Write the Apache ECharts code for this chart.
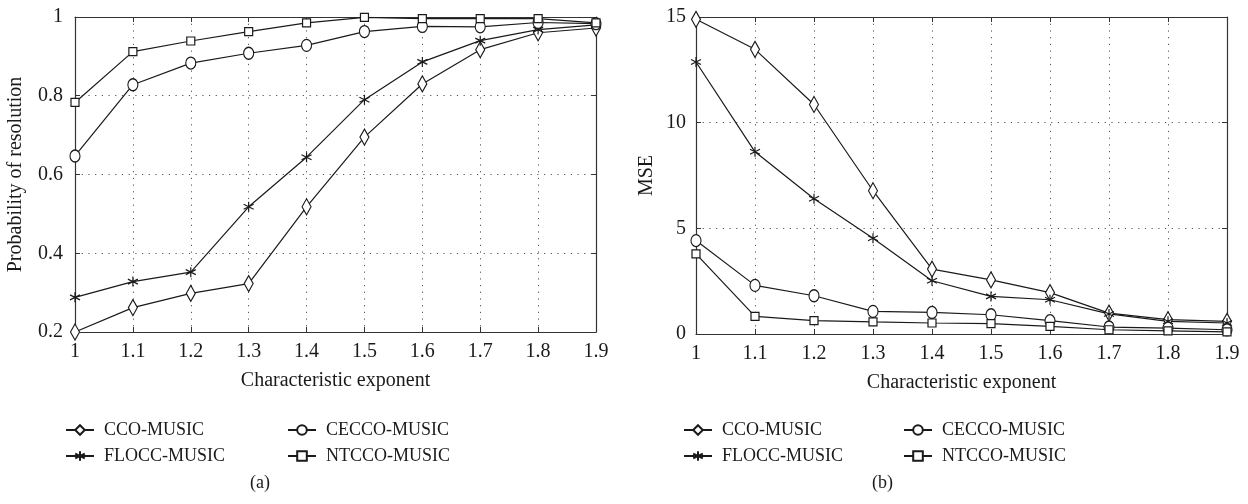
<!DOCTYPE html>
<html>
<head>
<meta charset="utf-8">
<script src="https://cdn.jsdelivr.net/npm/echarts@6/dist/echarts.min.js"></script>
<style>
html,body{margin:0;padding:0;background:#fff;}
#main{width:1248px;height:504px;}
</style>
</head>
<body>
<div id="main"></div>
<script>
// ---- data ----
const exponents = [1, 1.1, 1.2, 1.3, 1.4, 1.5, 1.6, 1.7, 1.8, 1.9];
const seriesNames = ['CCO-MUSIC', 'FLOCC-MUSIC', 'CECCO-MUSIC', 'NTCCO-MUSIC'];

// (a) Probability of resolution
const probCCO   = [0.200, 0.262, 0.298, 0.323, 0.518, 0.695, 0.830, 0.917, 0.960, 0.972];
const probFLOCC = [0.288, 0.328, 0.352, 0.518, 0.644, 0.790, 0.886, 0.940, 0.968, 0.980];
const probCECCO = [0.647, 0.828, 0.883, 0.908, 0.928, 0.963, 0.976, 0.975, 0.986, 0.983];
const probNTCCO = [0.783, 0.912, 0.939, 0.963, 0.985, 0.999, 0.996, 0.996, 0.996, 0.985];

// (b) MSE
const mseCCO   = [14.89, 13.47, 10.86, 6.78, 3.07, 2.56, 1.96, 0.99, 0.68, 0.60];
const mseFLOCC = [12.87, 8.62, 6.40, 4.53, 2.52, 1.78, 1.62, 0.95, 0.60, 0.52];
const mseCECCO = [4.42, 2.30, 1.81, 1.07, 1.02, 0.91, 0.63, 0.33, 0.28, 0.20];
const mseNTCCO = [3.79, 0.83, 0.63, 0.57, 0.52, 0.49, 0.36, 0.20, 0.15, 0.10];

const probTicks = ['0.2', '0.4', '0.6', '0.8', '1'];
const mseTicks = ['0', '5', '10', '15'];

// ---- styling ----
const FONT = 'Liberation Serif';
const INK = '#1a1a1a';
const symbols = {
  'CCO-MUSIC':   {symbol: 'diamond', symbolSize: [9, 16]},
  'FLOCC-MUSIC': {symbol: 'path://M5,0L5,10M0.67,2.5L9.33,7.5M0.67,7.5L9.33,2.5', symbolSize: 10},
  'CECCO-MUSIC': {symbol: 'circle', symbolSize: [10, 12]},
  'NTCCO-MUSIC': {symbol: 'rect', symbolSize: 8}
};

function pairs(vals) { return exponents.map((x, i) => [x, vals[i]]); }

function mkSeries(name, vals, gi) {
  return {
    name: name, type: 'line',
    xAxisIndex: gi * 2, yAxisIndex: gi * 2,
    data: pairs(vals),
    symbol: symbols[name].symbol,
    symbolSize: symbols[name].symbolSize,
    showAllSymbol: true,
    lineStyle: {color: INK, width: 1.2},
    itemStyle: {color: '#fff', borderColor: INK, borderWidth: 1.2},
    emphasis: {disabled: true},
    animation: false
  };
}

const fmtX = v => String(+v.toFixed(1));

function xAxes(gi) {
  return [
    {
      type: 'value', gridIndex: gi, position: 'bottom', min: 1, max: 1.9, interval: 0.1,
      axisLine: {show: true, onZero: false, lineStyle: {color: '#333', width: 1.2}},
      axisTick: {show: true, inside: true, length: 5, lineStyle: {color: '#333'}},
      axisLabel: {color: INK, fontFamily: FONT, fontSize: 20, margin: 10, formatter: fmtX},
      splitLine: {show: true, lineStyle: {color: '#555', type: [1.2, 5.5], width: 1}},
      name: 'Characteristic exponent', nameLocation: 'middle', nameGap: 39,
      nameTextStyle: {color: INK, fontFamily: FONT, fontSize: 20}
    },
    {
      type: 'value', gridIndex: gi, position: 'top', min: 1, max: 1.9, interval: 0.1,
      axisLine: {show: true, onZero: false, lineStyle: {color: '#333', width: 1.2}},
      axisTick: {show: true, inside: true, length: 5, lineStyle: {color: '#333'}},
      axisLabel: {show: false}, splitLine: {show: false}
    }
  ];
}

function yAxes(gi, min, max, interval, name, gap, ticks, margin) {
  return [
    {
      type: 'value', gridIndex: gi, position: 'left', min: min, max: max, interval: interval,
      axisLine: {show: true, onZero: false, lineStyle: {color: '#333', width: 1.2}},
      axisTick: {show: true, inside: true, length: 5, lineStyle: {color: '#333'}},
      axisLabel: {color: INK, fontFamily: FONT, fontSize: 20, margin: margin,
        formatter: v => { const idx = Math.round((v - min) / interval); return ticks[idx] !== undefined ? ticks[idx] : ''; }},
      splitLine: {show: true, lineStyle: {color: '#555', type: [1.2, 5.5], width: 1}},
      name: name, nameLocation: 'middle', nameGap: gap, nameRotate: 90,
      nameTextStyle: {color: INK, fontFamily: FONT, fontSize: 20}
    },
    {
      type: 'value', gridIndex: gi, position: 'right', min: min, max: max, interval: interval,
      axisLine: {show: true, onZero: false, lineStyle: {color: '#333', width: 1.2}},
      axisTick: {show: true, inside: true, length: 5, lineStyle: {color: '#333'}},
      axisLabel: {show: false}, splitLine: {show: false}
    }
  ];
}

function legend(names, left) {
  return {
    data: names, orient: 'vertical', left: left, top: 421, padding: 0,
    itemWidth: 28, itemHeight: 12, itemGap: 8,
    selectedMode: false,
    textStyle: {color: INK, fontFamily: FONT, fontSize: 18, lineHeight: 18, padding: [0, 0, 0, 5]},
    inactiveColor: INK
  };
}

const option = {
  backgroundColor: '#fff',
  animation: false,
  grid: [
    {left: 75, top: 17, width: 521, height: 315, containLabel: false},
    {left: 696, top: 17, width: 531, height: 317, containLabel: false}
  ],
  xAxis: [...xAxes(0), ...xAxes(1)],
  yAxis: [
    ...yAxes(0, 0.2, 1, 0.2, 'Probability of resolution', 49, probTicks, 12),
    ...yAxes(1, 0, 15, 5, 'MSE', 39, mseTicks, 10)
  ],
  legend: [
    legend(['CCO-MUSIC', 'FLOCC-MUSIC'], 65),
    legend(['CECCO-MUSIC', 'NTCCO-MUSIC'], 287),
    legend(['CCO-MUSIC', 'FLOCC-MUSIC'], 683),
    legend(['CECCO-MUSIC', 'NTCCO-MUSIC'], 903)
  ],
  title: [
    {text: '(a)', left: 250, top: 474, padding: 0, textStyle: {color: INK, fontFamily: FONT, fontSize: 18, fontWeight: 'normal'}},
    {text: '(b)', left: 872, top: 474, padding: 0, textStyle: {color: INK, fontFamily: FONT, fontSize: 18, fontWeight: 'normal'}}
  ],
  series: [
    mkSeries('CCO-MUSIC', probCCO, 0),
    mkSeries('FLOCC-MUSIC', probFLOCC, 0),
    mkSeries('CECCO-MUSIC', probCECCO, 0),
    mkSeries('NTCCO-MUSIC', probNTCCO, 0),
    mkSeries('CCO-MUSIC', mseCCO, 1),
    mkSeries('FLOCC-MUSIC', mseFLOCC, 1),
    mkSeries('CECCO-MUSIC', mseCECCO, 1),
    mkSeries('NTCCO-MUSIC', mseNTCCO, 1)
  ]
};

const chart = echarts.init(document.getElementById('main'), null, {renderer: 'canvas'});
chart.setOption(option);
</script>
</body>
</html>
